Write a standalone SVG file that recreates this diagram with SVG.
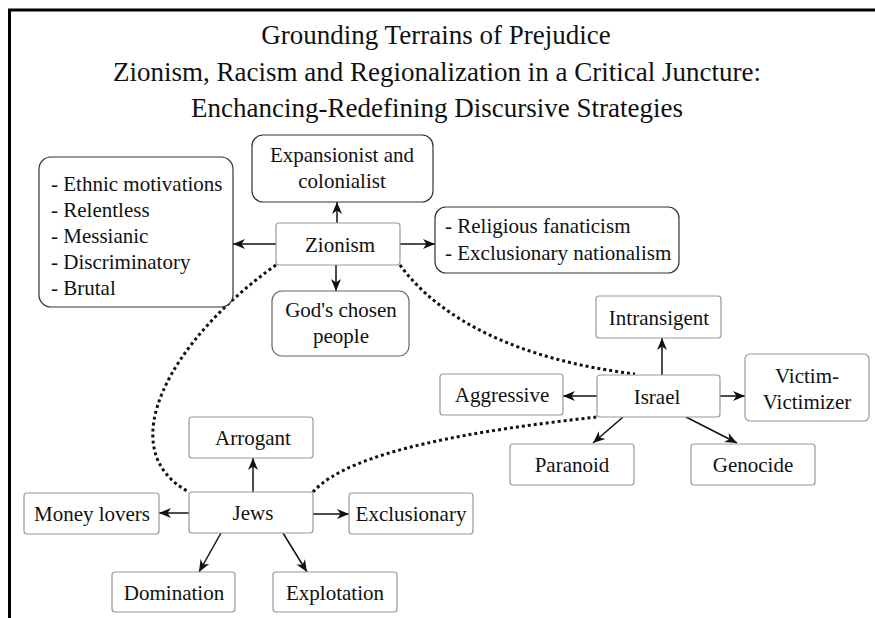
<svg xmlns="http://www.w3.org/2000/svg" width="875" height="618" viewBox="0 0 875 618">
<style>
text{font-family:'Liberation Serif','Times New Roman',serif;fill:#111;}
.t{font-size:27px;text-anchor:middle;}
.n{font-size:21px;text-anchor:middle;}
.l{font-size:21px;}
.bx{fill:#fff;stroke:#999;stroke-width:1.2;}
.rb{fill:#fff;stroke:#333;stroke-width:1.2;}
.rg{fill:#fff;stroke:#666;stroke-width:1.2;}
.ar{stroke:#111;stroke-width:1.5;fill:none;marker-end:url(#ah);}
.dt{stroke:#111;stroke-width:3;fill:none;stroke-dasharray:3 3;}
</style>
<defs>
<marker id="ah" markerUnits="userSpaceOnUse" viewBox="-1 -6 14 12" refX="12" refY="0" markerWidth="14" markerHeight="12" orient="auto">
<path d="M0,-5 L12,0 L0,5 L3.5,0 z" fill="#111"/>
</marker>
</defs>
<rect x="0" y="0" width="875" height="618" fill="#fff"/>
<g id="frame">
<line x1="8" y1="10" x2="875" y2="10" stroke="#000" stroke-width="3"/>
<line x1="9.5" y1="9" x2="9.5" y2="618" stroke="#000" stroke-width="3"/>
</g>
<g id="title">
<text class="t" x="436" y="44">Grounding Terrains of Prejudice</text>
<text class="t" x="437" y="81">Zionism, Racism and Regionalization in a Critical Juncture:</text>
<text class="t" x="437" y="117">Enchancing-Redefining Discursive Strategies</text>
</g>
<g id="connectors">
<path class="dt" d="M276,265 C170,340 110,450 189,492"/>
<path class="dt" d="M400,265 C440,320 520,360 635,374"/>
<path class="dt" d="M313,492 C350,450 480,430 597,417"/>
<line class="ar" x1="337" y1="223" x2="337" y2="202"/>
<line class="ar" x1="276" y1="244" x2="233" y2="244"/>
<line class="ar" x1="400" y1="244" x2="435" y2="244"/>
<line class="ar" x1="336" y1="265" x2="336" y2="291"/>
<line class="ar" x1="662" y1="375" x2="662" y2="338"/>
<line class="ar" x1="597" y1="396" x2="563" y2="396"/>
<line class="ar" x1="720" y1="396" x2="745" y2="396"/>
<line class="ar" x1="623" y1="417" x2="593" y2="443"/>
<line class="ar" x1="686" y1="417" x2="737" y2="443"/>
<line class="ar" x1="253" y1="492" x2="253" y2="458"/>
<line class="ar" x1="189" y1="513" x2="159" y2="513"/>
<line class="ar" x1="313" y1="514" x2="349" y2="514"/>
<line class="ar" x1="221" y1="533" x2="199" y2="572"/>
<line class="ar" x1="283" y1="533" x2="307" y2="572"/>
</g>
<g id="zionism"><rect class="bx" x="276" y="223" width="124" height="42" rx="3"/><text class="n" x="340" y="252">Zionism</text></g>
<g id="expansionist"><rect class="rb" x="252" y="135" width="181" height="67" rx="11"/><text class="n" x="342" y="162">Expansionist and</text><text class="n" x="342" y="188">colonialist</text></g>
<g id="left-list"><rect class="rb" x="39" y="157" width="194" height="150" rx="12"/>
<text class="l" x="51" y="191">- Ethnic motivations</text>
<text class="l" x="51" y="217">- Relentless</text>
<text class="l" x="51" y="243">- Messianic</text>
<text class="l" x="51" y="269">- Discriminatory</text>
<text class="l" x="51" y="295">- Brutal</text></g>
<g id="right-list"><rect class="rb" x="435" y="207" width="244" height="66" rx="11"/>
<text class="l" x="445" y="233">- Religious fanaticism</text>
<text class="l" x="445" y="260">- Exclusionary nationalism</text></g>
<g id="chosen"><rect class="rg" x="272" y="291" width="137" height="65" rx="10"/><text class="n" x="341" y="317">God's chosen</text><text class="n" x="341" y="343">people</text></g>
<g id="intransigent"><rect class="bx" x="596" y="296" width="125" height="42" rx="3"/><text class="n" x="659" y="325">Intransigent</text></g>
<g id="israel"><rect class="bx" x="597" y="375" width="123" height="42" rx="3"/><text class="n" x="657" y="404">Israel</text></g>
<g id="victim"><rect class="bx" x="745" y="354" width="124" height="67" rx="5"/><text class="n" x="807" y="383">Victim-</text><text class="n" x="807" y="409">Victimizer</text></g>
<g id="aggressive"><rect class="bx" x="440" y="374" width="123" height="41" rx="3"/><text class="n" x="502" y="402">Aggressive</text></g>
<g id="paranoid"><rect class="bx" x="510" y="444" width="124" height="41" rx="3"/><text class="n" x="572" y="472">Paranoid</text></g>
<g id="genocide"><rect class="bx" x="691" y="444" width="124" height="41" rx="3"/><text class="n" x="753" y="472">Genocide</text></g>
<g id="jews"><rect class="bx" x="189" y="492" width="124" height="41" rx="3"/><text class="n" x="253" y="520">Jews</text></g>
<g id="arrogant"><rect class="bx" x="189" y="417" width="124" height="41" rx="3"/><text class="n" x="253" y="445">Arrogant</text></g>
<g id="money"><rect class="bx" x="24" y="493" width="135" height="41" rx="3"/><text class="n" x="92" y="521">Money lovers</text></g>
<g id="exclusionary"><rect class="bx" x="349" y="493" width="124" height="41" rx="3"/><text class="n" x="411" y="521">Exclusionary</text></g>
<g id="domination"><rect class="bx" x="112" y="572" width="123" height="40" rx="3"/><text class="n" x="174" y="600">Domination</text></g>
<g id="explotation"><rect class="bx" x="273" y="572" width="124" height="40" rx="3"/><text class="n" x="335" y="600">Explotation</text></g>
</svg>
